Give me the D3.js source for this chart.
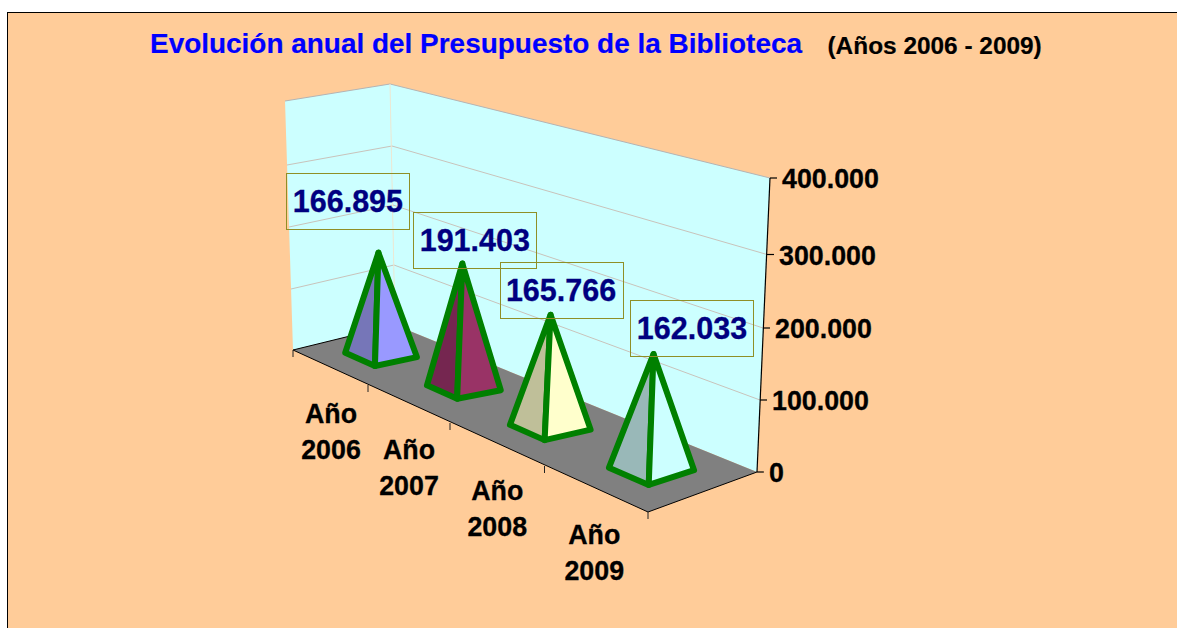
<!DOCTYPE html>
<html>
<head>
<meta charset="utf-8">
<script src="https://cdn.jsdelivr.net/npm/d3@7"></script>
<style>
html,body{margin:0;padding:0;background:#fff;overflow:hidden}
svg{display:block}
text{font-family:"Liberation Sans",Arial,sans-serif;font-weight:bold}
</style>
</head>
<body>
<svg id="c" width="1177" height="628"></svg>
<script>
// ---- data ----
const titleMain = "Evolución anual del Presupuesto de la Biblioteca";
const titleSub = "(Años 2006 - 2009)";
const categories = ["Año 2006", "Año 2007", "Año 2008", "Año 2009"];
const values = [166895, 191403, 165766, 162033];
const valueLabels = ["166.895", "191.403", "165.766", "162.033"];
const axisTicks = [0, 100000, 200000, 300000, 400000];
const axisTickLabels = ["0", "100.000", "200.000", "300.000", "400.000"];

// ---- palette ----
const leftFaces = ["#7676b8", "#752650", "#bfbf99", "#99b8b8"];
const rightFaces = ["#9999ff", "#993366", "#ffffcc", "#ccffff"];

// ---- layout of the projected 3D frame ----
const svg = d3.select("#c");
const edge = (xs, ys) => ({
  x: d3.scaleLinear().domain(axisTicks).range(xs),
  y: d3.scaleLinear().domain(axisTicks).range(ys)
});
const farLeft = edge([293, 291, 289, 287, 285], [350, 289, 227, 165, 101]);
const corner  = edge([395, 394, 393, 392, 390], [325, 265, 205, 146, 84]);
const right   = edge([757, 760, 763, 767, 770], [472, 400, 328, 254.5, 178]);

const bounds = d3.range(categories.length + 1);
const frontX = d3.scaleLinear().domain(bounds).range([293, 368, 450, 544.5, 648]);
const frontY = d3.scaleLinear().domain(bounds).range([350, 385, 423, 466, 512]);
const backX = d3.scaleLinear().domain([0, categories.length]).range([corner.x(0), right.x(0)]);
const backY = d3.scaleLinear().domain([0, categories.length]).range([corner.y(0), right.y(0)]);
const floorPt = (t, v) => [
  frontX(t) + v * (backX(t) - frontX(t)),
  frontY(t) + v * (backY(t) - frontY(t))
];
const poly = pts => "M" + pts.map(p => p.join(",")).join("L") + "Z";
const topV = axisTicks[axisTicks.length - 1];

// pyramid placement on the floor, in floor coordinates
const baseT = [0.469, 1.399, 2.414, 3.463];
const baseV = [0.479, 0.52, 0.493, 0.514];
const baseHalf = [0.187, 0.178, 0.186, 0.2];
const heightTrim = [1, 0, 0.5, 1];
// label box offset from each pyramid tip
const labelDx = [-30.5, 12.5, 10.5, 38.5];
const labelDy = [-52, -24, -25, -26.5];
const categoryShift = [0.5, 0, 0, -2];

// background + frame
svg.append("rect").attr("x", 7.5).attr("y", 12.5).attr("width", 1300).attr("height", 700)
  .attr("fill", "#ffcc99").attr("stroke", "#000").attr("stroke-width", 1);

// walls
svg.append("path").attr("fill", "#ccffff").attr("d", poly([
  [farLeft.x(topV), farLeft.y(topV)], [corner.x(topV), corner.y(topV)],
  [corner.x(0), corner.y(0)], [farLeft.x(0), farLeft.y(0)]]));
svg.append("path").attr("fill", "#ccffff").attr("d", poly([
  [corner.x(topV), corner.y(topV)], [right.x(topV), right.y(topV)],
  [right.x(0), right.y(0)], [corner.x(0), corner.y(0)]]));

// gridlines, including wall tops
const gridStroke = v => v === topV ? "#b4b4b4" : "#c9c3bb";
const grid = svg.append("g").attr("fill", "none").attr("stroke-width", 1);
axisTicks.filter(v => v > 0).forEach(v => {
  grid.append("path").attr("stroke", gridStroke(v))
    .attr("d", d3.line()([[farLeft.x(v), farLeft.y(v)], [corner.x(v), corner.y(v)], [right.x(v), right.y(v)]]));
});
svg.append("line").attr("stroke", "#ece8d4")
  .attr("x1", corner.x(topV)).attr("y1", corner.y(topV)).attr("x2", corner.x(0)).attr("y2", corner.y(0));

// floor
svg.append("path").attr("fill", "#808080").attr("d", poly([
  floorPt(0, 0), floorPt(categories.length, 0), floorPt(categories.length, 1), floorPt(0, 1)]));
svg.append("path").attr("fill", "none").attr("stroke", "#000").attr("stroke-width", 1)
  .attr("d", d3.line()([floorPt(0, 0.75), floorPt(0, 0), floorPt(categories.length, 0), floorPt(categories.length, 1)]));

// right value axis
svg.append("line").attr("stroke", "#000").attr("stroke-width", 1.2)
  .attr("x1", right.x(0)).attr("y1", right.y(0)).attr("x2", right.x(topV)).attr("y2", right.y(topV));
axisTicks.forEach((v, i) => {
  svg.append("line").attr("stroke", "#000").attr("stroke-width", 1.2)
    .attr("x1", right.x(v)).attr("x2", right.x(v) + 7)
    .attr("y1", right.y(v)).attr("y2", right.y(v));
  svg.append("text").attr("x", right.x(v) + 12).attr("y", right.y(v) + 10)
    .attr("font-size", 26.8).attr("fill", "#000")
    .attr("stroke", "#000").attr("stroke-width", 0.3).text(axisTickLabels[i]);
});

// category ticks and labels
bounds.forEach(t => {
  svg.append("line").attr("stroke", "#222").attr("stroke-width", 1)
    .attr("x1", frontX(t)).attr("x2", frontX(t))
    .attr("y1", frontY(t)).attr("y2", frontY(t) + 7);
});
categories.forEach((c, i) => {
  const t = i + 0.5;
  c.split(" ").forEach((p, k) => {
    svg.append("text").attr("text-anchor", "middle")
      .attr("x", frontX(t) + categoryShift[i]).attr("y", frontY(t) + 55 + k * 36)
      .attr("font-size", 26.8).attr("fill", "#000")
      .attr("stroke", "#000").attr("stroke-width", 0.3).text(p);
  });
});

// pyramids
const wallSpan = d3.scaleLinear().domain([0, categories.length])
  .range([corner.y(0) - corner.y(topV), right.y(0) - right.y(topV)]);
const height = d3.scaleLinear().domain([0, topV]);
const lean = d3.scaleLinear().domain([0.5, 3.5]).range([-0.02, 0.013]);
const apexes = [];
values.forEach((val, i) => {
  const t = baseT[i], v = baseV[i], w = baseHalf[i];
  const A = floorPt(t - w, v - w);
  const B = floorPt(t + w, v - w);
  const C = floorPt(t + w, v + w);
  const O = floorPt(t, v);
  const h = height.range([0, wallSpan(t)])(val) - heightTrim[i];
  const P = [O[0] + lean(t) * h, O[1] - h];
  apexes.push(P);
  const g = svg.append("g").attr("stroke", "#008000").attr("stroke-width", 6)
    .attr("stroke-linejoin", "round").attr("stroke-linecap", "round");
  g.append("path").attr("fill", leftFaces[i]).attr("d", poly([A, B, P]));
  g.append("path").attr("fill", rightFaces[i]).attr("d", poly([B, C, P]));
});

// data labels
values.forEach((val, i) => {
  const cx = apexes[i][0] + labelDx[i], cy = apexes[i][1] + labelDy[i];
  svg.append("rect").attr("x", Math.round(cx - 61.5) + 0.5).attr("y", Math.round(cy - 28) + 0.5)
    .attr("width", 123).attr("height", 56)
    .attr("fill", "none").attr("stroke", "#8f8f26").attr("stroke-width", 1);
  svg.append("text").attr("text-anchor", "middle").attr("x", cx).attr("y", cy + 11.5)
    .attr("font-size", 30.5).attr("fill", "#000080")
    .attr("stroke", "#000080").attr("stroke-width", 0.3).text(valueLabels[i]);
});

// titles
svg.append("text").attr("x", 150).attr("y", 52.5).attr("font-size", 27.95).attr("fill", "#0000ff")
  .attr("stroke", "#0000ff").attr("stroke-width", 0.2).text(titleMain);
svg.append("text").attr("x", 827.5).attr("y", 53.5).attr("font-size", 24.4).attr("fill", "#000")
  .attr("stroke", "#000").attr("stroke-width", 0.2).text(titleSub);
</script>
</body>
</html>
